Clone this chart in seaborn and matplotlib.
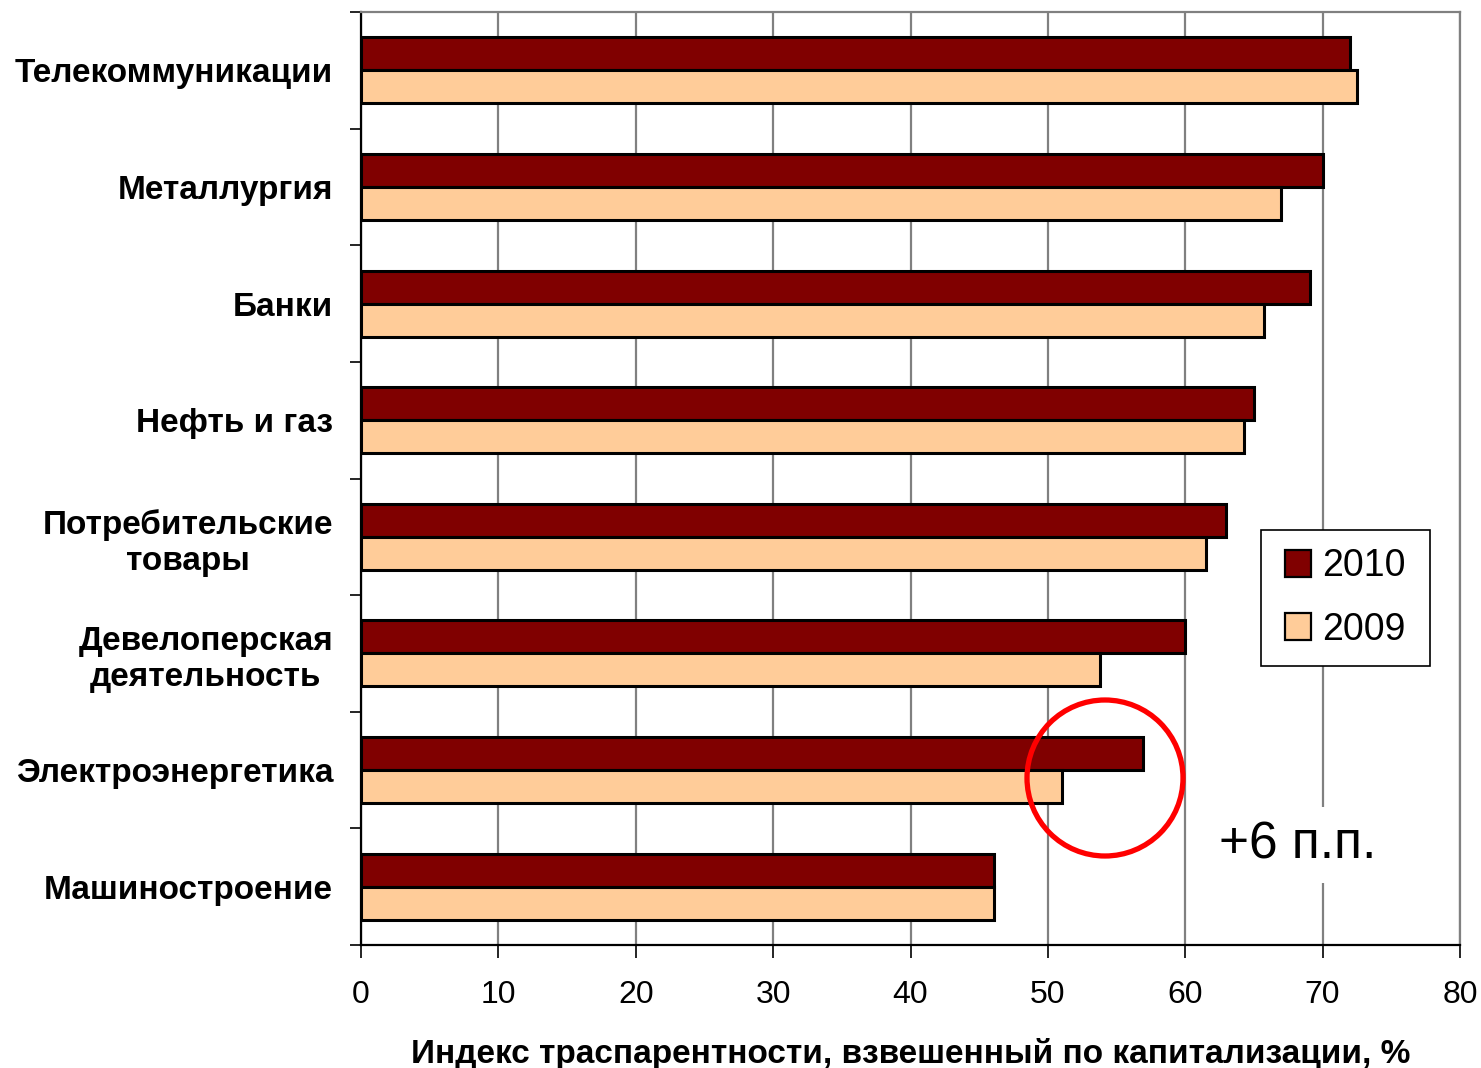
import matplotlib
matplotlib.use("Agg")
import matplotlib.pyplot as plt
from matplotlib.patches import Ellipse, Rectangle
from matplotlib.ticker import FixedLocator
import seaborn as sns
import pandas as pd

# Sectors and transparency index values (%) by year
sectors = ['Телекоммуникации', 'Металлургия', 'Банки', 'Нефть и газ',
           'Потребительские\nтовары', 'Девелоперская\nдеятельность',
           'Электроэнергетика', 'Машиностроение']
values_2010 = [72.0, 70.0, 69.1, 65.0, 63.0, 60.0, 56.9, 46.1]
values_2009 = [72.5, 67.0, 65.7, 64.3, 61.5, 53.8, 51.0, 46.1]
years = ['2010', '2009']
x_ticks = [0, 10, 20, 30, 40, 50, 60, 70, 80]

df = pd.DataFrame({
    'sector': sectors * 2,
    'value': values_2010 + values_2009,
    'year': [years[0]] * len(sectors) + [years[1]] * len(sectors),
})

sns.set_theme(style='white')
plt.rcParams['font.family'] = ['Liberation Sans', 'DejaVu Sans']
plt.rcParams['text.color'] = 'black'
plt.rcParams['axes.labelcolor'] = 'black'
plt.rcParams['xtick.color'] = 'black'
plt.rcParams['ytick.color'] = 'black'

W, H = 1481, 1068
fig = plt.figure(figsize=(W / 100, H / 100), dpi=100)
ax = fig.add_axes([361 / W, 1 - 945 / H, (1460 - 361) / W, (945 - 12) / H])

palette = {'2010': '#800000', '2009': '#FFCC99'}
sns.barplot(data=df, y='sector', x='value', hue='year', hue_order=years,
            order=sectors, orient='h', palette=palette, width=0.566,
            edgecolor='black', linewidth=2.2, saturation=1, ax=ax,
            legend=True, zorder=3)

ax.set_xlim(0, 80)
ax.set_ylim(len(sectors) - 0.5, -0.5)
ax.set_xticks(x_ticks)
ax.set_xticklabels([str(t) for t in x_ticks], fontsize=23)
ax.xaxis.grid(True, color='#808080', linewidth=1.6, zorder=0)
ax.yaxis.grid(False)
ax.set_axisbelow(True)

# Category labels; tick marks only at category boundaries
ax.tick_params(axis='y', which='major', length=0, pad=20)
ax.set_yticks(range(len(sectors)))
ax.set_yticklabels(sectors, fontsize=24, fontweight='bold', multialignment='center')
ax.yaxis.set_minor_locator(FixedLocator([i - 0.5 for i in range(len(sectors) + 1)]))
ax.tick_params(axis='y', which='minor', left=True, length=8, width=1.2, color='black', direction='out')
ax.tick_params(axis='x', which='major', bottom=True, length=9, width=1.2, color='black', direction='out', pad=16)

ax.set_ylabel('')
ax.set_xlabel('Индекс траспарентности, взвешенный по капитализации, %',
              fontsize=24, fontweight='bold', labelpad=20)

for side in ['left', 'bottom']:
    ax.spines[side].set_color('black')
    ax.spines[side].set_linewidth(1.6)
for side in ['top', 'right']:
    ax.spines[side].set_color('#808080')
    ax.spines[side].set_linewidth(1.6)

# Legend: entries inside a plain rectangular frame
handles, labels = ax.get_legend_handles_labels()
ax.get_legend().remove()
frame = Rectangle((1261 / W, 1 - 666 / H), (1430 - 1261) / W, (666 - 530) / H,
                  transform=fig.transFigure, facecolor='white', edgecolor='black',
                  linewidth=1.2, zorder=4)
fig.add_artist(frame)
leg = fig.legend(handles, labels, loc='center',
                 bbox_to_anchor=((1261 + 1430) / 2 / W, 1 - 598 / H),
                 fontsize=27, frameon=False,
                 handlelength=0.7, handleheight=0.7, handletextpad=0.3,
                 borderpad=0, borderaxespad=0, labelspacing=0.72)
leg.set_zorder(5)
for h in leg.legend_handles:
    h.set_edgecolor('black')
    h.set_linewidth(1.6)

# Highlight of the power sector change
circle = Ellipse((1105 / W, 1 - 778 / H), 156 / W, 156 / H,
                 transform=fig.transFigure, fill=False, edgecolor='#FF0000',
                 linewidth=3.8, zorder=10)
fig.add_artist(circle)
fig.text(1298 / W, 1 - 845 / H, '+6 п.п.', fontsize=37, ha='center', va='center',
         bbox=dict(facecolor='white', edgecolor='none', pad=10), zorder=9)

fig.savefig('out.png', dpi=100, facecolor='white')
